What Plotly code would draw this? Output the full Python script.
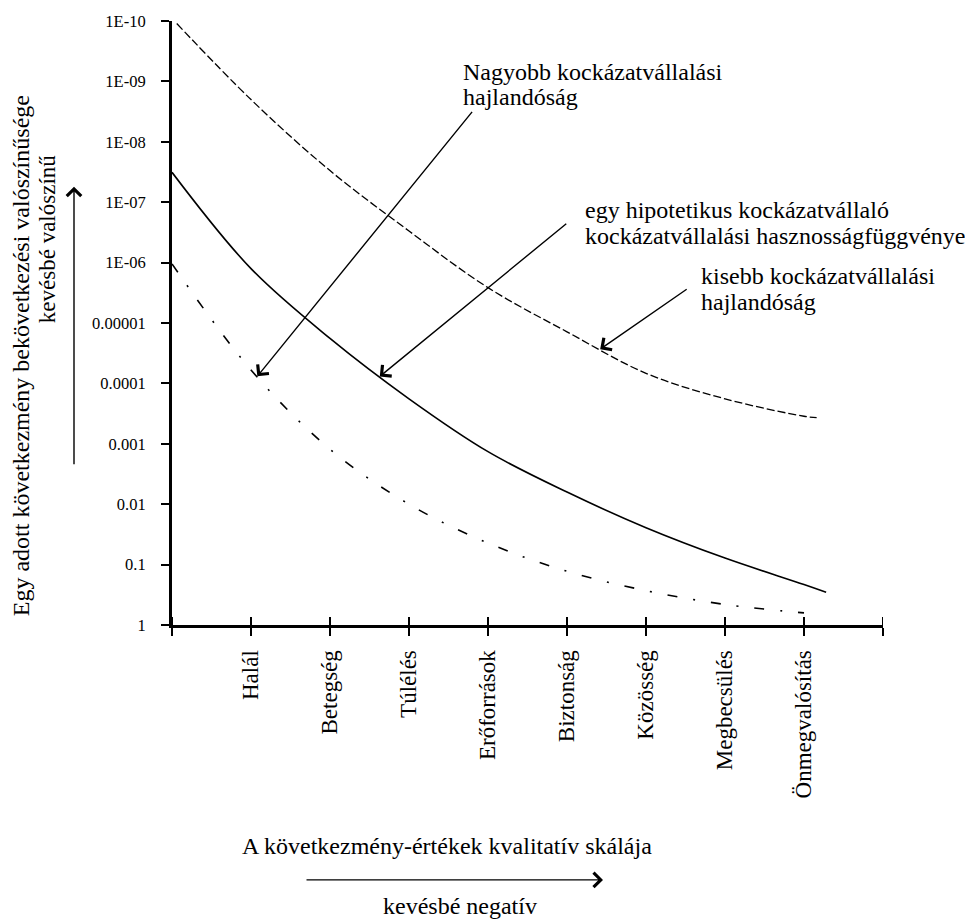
import numpy as np
import plotly.graph_objects as go

# ---------------- data ----------------
categories = ["Halál", "Betegség", "Túlélés", "Erőforrások", "Biztonság",
              "Közösség", "Megbecsülés", "Önmegvalósítás"]
x_ticks = [0, 1, 2, 3, 4, 5, 6, 7, 8, 9]

y_tickvals = [1e-10, 1e-9, 1e-8, 1e-7, 1e-6, 1e-5, 1e-4, 1e-3, 1e-2, 1e-1, 1]
y_ticktext = ["1E-10", "1E-09", "1E-08", "1E-07", "1E-06", "0.00001",
              "0.0001", "0.001", "0.01", "0.1", "1"]

# kisebb kockázatvállalási hajlandóság (dashed)
low_x = [0.06, 1, 2, 3, 4, 5, 6, 7, 8, 8.16]
low_p = [1.1e-10, 2.0e-9, 3.0e-8, 3.0e-7, 2.6e-6, 1.4e-5, 6.8e-5, 1.8e-4, 3.5e-4, 3.7e-4]

# hipotetikus kockázatvállaló (solid)
mid_x = [0, 1, 2, 3, 4, 5, 6, 7, 8, 8.28]
mid_p = [3.2e-8, 1.26e-6, 1.8e-5, 1.8e-4, 1.35e-3, 6.3e-3, 2.45e-2, 7.8e-2, 0.214, 0.288]

# nagyobb kockázatvállalási hajlandóság (dash-dot)
high_x = [0, 1, 2, 3, 4, 5, 6, 7, 8]
high_p = [1.05e-6, 6.0e-5, 1.23e-3, 1.0e-2, 4.4e-2, 0.129, 0.27, 0.457, 0.63]

FONT = "Liberation Serif, Times New Roman, serif"
W, H = 965, 920
L, R, T, B = 172, 82, 16, 295
PW, PH = W - L - R, H - T - B


def px(xp, yp):
    """pixel position -> paper coordinates"""
    return (xp - L) / PW, (H - B - yp) / PH


fig = go.Figure()
fig.add_trace(go.Scatter(x=low_x, y=low_p, mode="lines", line_shape="spline",
                         line=dict(color="black", width=1.3, dash="8px,3px"),
                         hoverinfo="skip"))
fig.add_trace(go.Scatter(x=mid_x, y=mid_p, mode="lines", line_shape="spline",
                         line=dict(color="black", width=1.6), hoverinfo="skip"))
fig.add_trace(go.Scatter(x=high_x, y=high_p, mode="lines", line_shape="spline",
                         line=dict(color="black", width=1.6, dash="10px,16px,2px,16px"),
                         hoverinfo="skip"))

# inside halves of the crossing tick marks
shapes = []
for t in x_ticks:
    shapes.append(dict(type="line", xref="x", yref="paper", x0=t, x1=t,
                       ysizemode="pixel", yanchor=0, y0=0, y1=8,
                       line=dict(color="black", width=2)))
for v in y_tickvals:
    lv = np.log10(v)
    shapes.append(dict(type="line", yref="y", xref="paper", y0=lv, y1=lv,
                       xsizemode="pixel", xanchor=0, x0=0, x1=8,
                       line=dict(color="black", width=2)))

annotations = []


def tip(xs, ps, xt):
    return float(np.interp(xt, xs, np.log10(ps)))


arrow_style = dict(showarrow=True, arrowhead=4, arrowsize=2.0, arrowwidth=1.4,
                   arrowcolor="black", text="", axref="pixel", ayref="pixel")
# arrows pointing at the curves
annotations.append(dict(x=1.08, y=tip(high_x, high_p, 1.08), xref="x", yref="y",
                        ax=216, ay=-266, **arrow_style))
annotations.append(dict(x=2.63, y=tip(mid_x, mid_p, 2.63), xref="x", yref="y",
                        ax=188, ay=-154, **arrow_style))
annotations.append(dict(x=5.42, y=tip(low_x, low_p, 5.42), xref="x", yref="y",
                        ax=88, ay=-61, **arrow_style))


def label(text, xp, yp, xanchor="left", angle=0, size=24):
    x, y = px(xp, yp)
    annotations.append(dict(text=text, x=x, y=y, xref="paper", yref="paper",
                            xanchor=xanchor, yanchor="middle", showarrow=False,
                            textangle=angle,
                            font=dict(family=FONT, size=size, color="black")))


label("Nagyobb kockázatvállalási", 461, 67)
label("hajlandóság", 461, 93)
label("egy hipotetikus kockázatvállaló", 583, 207)
label("kockázatvállalási hasznosságfüggvénye", 583, 233)
label("kisebb kockázatvállalási", 699, 273)
label("hajlandóság", 699, 299)

# y title
label("Egy adott következmény bekövetkezési valószínűsége", 21, 354, "center", -90)
label("kevésbé valószínű", 47, 236, "center", -90, 23)
ax0, ay0 = px(74, 183)
annotations.append(dict(x=ax0, y=ay0, xref="paper", yref="paper", ax=0, ay=279,
                        **arrow_style))

# x title
label("A következmény-értékek kvalitatív skálája", 447, 848, "center")
ax1, ay1 = px(603, 882)
annotations.append(dict(x=ax1, y=ay1, xref="paper", yref="paper", ax=-298, ay=0,
                        **arrow_style))
label("kevésbé negatív", 460, 908, "center")

fig.update_layout(
    width=W, height=H,
    margin=dict(l=L, r=R, t=T, b=B, pad=0),
    paper_bgcolor="white", plot_bgcolor="white",
    showlegend=False,
    shapes=shapes,
    annotations=annotations,
    font=dict(family=FONT, color="black"),
)
fig.update_xaxes(range=[0, 9], tickmode="array", tickvals=x_ticks,
                 ticktext=[""] + categories + [""], tickangle=-90,
                 ticks="outside", ticklen=8, tickwidth=2, tickcolor="black",
                 showline=True, linewidth=3, linecolor="black",
                 showgrid=False, zeroline=False, ticklabelstandoff=5,
                 tickfont=dict(family=FONT, size=23, color="black"))
fig.update_yaxes(type="log", range=[0, -10], tickmode="array",
                 tickvals=y_tickvals, ticktext=y_ticktext,
                 ticks="outside", ticklen=8, tickwidth=2, tickcolor="black",
                 showline=True, linewidth=3, linecolor="black",
                 showgrid=False, zeroline=False, ticklabelstandoff=12,
                 tickfont=dict(family=FONT, size=16.5, color="black"))

fig.write_html("out.html", config={"displayModeBar": False},
               post_script="document.body.style.margin='0';"
                           "document.body.style.overflow='hidden';")
